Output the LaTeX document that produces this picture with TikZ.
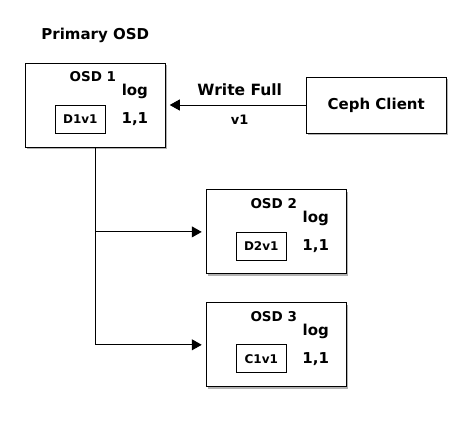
\documentclass[tikz,border=0pt]{standalone}
\usepackage{fontspec}
\setmainfont{DejaVu Sans}
\usetikzlibrary{arrows.meta, shadows, positioning}
\tikzstyle{osdbox} = [rectangle, minimum width=140pt, minimum height=84pt, inner sep=0pt, draw=black, line width=0.9pt, fill=white, drop shadow={shadow xshift=2pt, shadow yshift=-2pt, fill=black!30, opacity=1}]
\tikzstyle{clientbox} = [rectangle, minimum width=140pt, minimum height=56pt, inner sep=0pt, draw=black, line width=0.9pt, fill=white, drop shadow={shadow xshift=2pt, shadow yshift=-2pt, fill=black!30, opacity=1}, font=\bfseries\fontsize{15}{17}\selectfont]
\tikzstyle{databox} = [rectangle, minimum width=50pt, minimum height=28pt, inner sep=0pt, draw=black, line width=0.8pt, font=\bfseries\fontsize{12}{14}\selectfont]
\tikzstyle{osdname} = [anchor=base, inner sep=0pt, font=\bfseries\fontsize{13.5}{15}\selectfont]
\tikzstyle{logtext} = [anchor=base, inner sep=0pt, font=\bfseries\fontsize{15}{17}\selectfont]
\tikzstyle{title} = [inner sep=0pt, font=\bfseries\fontsize{15}{17}\selectfont]
\tikzstyle{arrow} = [line width=0.9pt, -{Triangle[length=10pt,width=11pt]}, shorten >=4pt]

\begin{document}
\begin{tikzpicture}[x=1pt, y=-1pt]
    \useasboundingbox (0,0) rectangle (470,420);
    \node (osdone) [osdbox] at (95.3,105) {};
    \node (client) [clientbox, right=140pt of osdone] {Ceph Client};
    \node (osdtwo) [osdbox, below right=42pt and 40pt of osdone] {};
    \node (osdthree) [osdbox, below=28pt of osdtwo] {};
    \node (primary) [title, above=20pt of osdone] {Primary OSD};

    % contents of the OSDs
    \node (nameone) [osdname] at ([xshift=68pt, yshift=-19pt]osdone.north west) {OSD 1};
    \node (logone) [logtext] at ([xshift=110pt, yshift=-33pt]osdone.north west) {log};
    \node (verone) [logtext] at ([xshift=110pt, yshift=-61pt]osdone.north west) {1,1};
    \node (dataone) [databox] at ([xshift=55.5pt, yshift=-56.5pt]osdone.north west) {D1v1};

    \node (nametwo) [osdname] at ([xshift=68pt, yshift=-19pt]osdtwo.north west) {OSD 2};
    \node (logtwo) [logtext] at ([xshift=110pt, yshift=-33pt]osdtwo.north west) {log};
    \node (vertwo) [logtext] at ([xshift=110pt, yshift=-61pt]osdtwo.north west) {1,1};
    \node (datatwo) [databox] at ([xshift=55.5pt, yshift=-56.5pt]osdtwo.north west) {D2v1};

    \node (namethree) [osdname] at ([xshift=68pt, yshift=-19pt]osdthree.north west) {OSD 3};
    \node (logthree) [logtext] at ([xshift=110pt, yshift=-33pt]osdthree.north west) {log};
    \node (verthree) [logtext] at ([xshift=110pt, yshift=-61pt]osdthree.north west) {1,1};
    \node (datathree) [databox] at ([xshift=55.5pt, yshift=-56.5pt]osdthree.north west) {C1v1};

    \coordinate (split) at (osdone.south |- osdtwo.west);

    \draw [arrow] (client) -- node[midway, above=9pt, xshift=4pt, inner sep=0pt, font=\bfseries\fontsize{15.5}{17}\selectfont] {Write Full} node[midway, below=10pt, xshift=4pt, inner sep=0pt, font=\bfseries\fontsize{13}{15}\selectfont] {v1} (osdone);
    \draw [arrow] (osdone.south) |- (osdthree.west);
    \draw [arrow] (split) -- (osdtwo.west);
\end{tikzpicture}
\end{document}
